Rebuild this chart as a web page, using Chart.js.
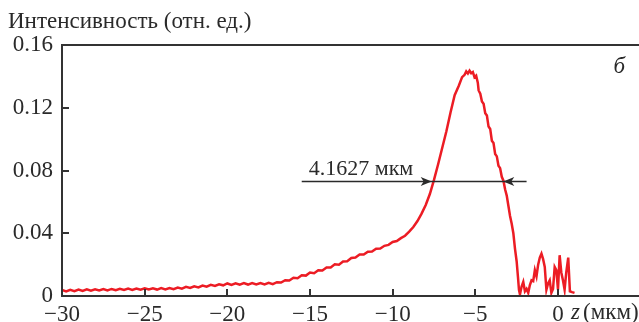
<!DOCTYPE html>
<html>
<head>
<meta charset="utf-8">
<script src="https://cdn.jsdelivr.net/npm/chart.js@4"></script>
<style>
  body { margin: 0; background: #fff; }
</style>
</head>
<body>
<canvas id="chart1" width="639" height="322"></canvas>
<script>
// data
let zValues = [
  -30, -29.75, -29.5, -29.25, -29, -28.75, -28.5, -28.25, -28, -27.75, -27.5, -27.25,
  -27, -26.75, -26.5, -26.25, -26, -25.75, -25.5, -25.25, -25, -24.75, -24.5, -24.25,
  -24, -23.75, -23.5, -23.25, -23, -22.75, -22.5, -22.25, -22, -21.75, -21.5, -21.25,
  -21, -20.75, -20.5, -20.25, -20, -19.75, -19.5, -19.25, -19, -18.75, -18.5, -18.25,
  -18, -17.75, -17.5, -17.25, -17, -16.75, -16.5, -16.25, -16, -15.75, -15.5, -15.25,
  -15, -14.75, -14.5, -14.25, -14, -13.75, -13.5, -13.25, -13, -12.75, -12.5, -12.25,
  -12, -11.75, -11.5, -11.25, -11, -10.75, -10.5, -10.25, -10, -9.75, -9.5, -9.25,
  -9, -8.75, -8.5, -8.25, -8, -7.75, -7.5, -7.25, -7, -6.75, -6.5, -6.25,
  -6, -5.8, -5.65, -5.55, -5.45, -5.35, -5.25, -5.15, -5.05, -4.95, -4.85, -4.8,
  -4.7, -4.6, -4.5, -4.4, -4.3, -4.2, -4.1, -4, -3.9, -3.8, -3.7, -3.6,
  -3.5, -3.4, -3.3, -3.2, -3.1, -3, -2.9, -2.8, -2.7, -2.6, -2.5, -2.42,
  -2.36, -2.3, -2.2, -2.1, -2, -1.9, -1.8, -1.7, -1.6, -1.5, -1.4, -1.3,
  -1.2, -1.1, -1, -0.9, -0.8, -0.7, -0.6, -0.5, -0.4, -0.3, -0.2, -0.1,
  0, 0.1, 0.2, 0.3, 0.4, 0.5, 0.62, 0.72, 0.85, 1
];
let intensity = [
  0.0038, 0.0029, 0.0039, 0.0031, 0.0041, 0.0032, 0.0042, 0.0034, 0.0043, 0.0035, 0.0044, 0.0036,
  0.0045, 0.0037, 0.0046, 0.0038, 0.0047, 0.0039, 0.0048, 0.0040, 0.0049, 0.0041, 0.0049, 0.0041,
  0.0050, 0.0042, 0.0051, 0.0044, 0.0054, 0.0047, 0.0058, 0.0051, 0.0062, 0.0055, 0.0067, 0.0060,
  0.0071, 0.0064, 0.0075, 0.0068, 0.0080, 0.0071, 0.0081, 0.0072, 0.0082, 0.0073, 0.0083, 0.0074,
  0.0083, 0.0074, 0.0084, 0.0076, 0.0088, 0.0086, 0.0101, 0.0099, 0.0116, 0.0113, 0.0132, 0.0130,
  0.0150, 0.0145, 0.0164, 0.0163, 0.0182, 0.0182, 0.0202, 0.0200, 0.0220, 0.0222, 0.0242, 0.0245,
  0.0264, 0.0264, 0.0282, 0.0283, 0.0301, 0.0303, 0.0320, 0.0326, 0.0344, 0.0350, 0.0369, 0.0384,
  0.0410, 0.0440, 0.0478, 0.0525, 0.0580, 0.0650, 0.0740, 0.0840, 0.0945, 0.1050, 0.1170, 0.1280,
  0.1340, 0.1395, 0.1410, 0.1432, 0.1418, 0.1436, 0.1420, 0.1428, 0.1395, 0.1405, 0.1360, 0.1310,
  0.1290, 0.1240, 0.1225, 0.1165, 0.1150, 0.1080, 0.1065, 0.0990, 0.0975, 0.0905, 0.0890, 0.0830,
  0.0815, 0.0760, 0.0735, 0.0680, 0.0640, 0.0575, 0.0510, 0.0460, 0.0400, 0.0300, 0.0220, 0.0120,
  0.0040, 0.0010, 0.0060, 0.0090, 0.0030, 0.0045, 0.0020, 0.0070, 0.0100, 0.0095, 0.0165, 0.0125,
  0.0200, 0.0245, 0.0270, 0.0235, 0.0185, 0.0040, 0.0080, 0.0100, 0.0020, 0.0045, 0.0185, 0.0165,
  0.0040, 0.0260, 0.0150, 0.0100, 0.0040, 0.0150, 0.0245, 0.0030, 0.0025, 0.0020
];

let yTitle = 'Интенсивность (отн. ед.)';
let xUnit = '(мкм)';
let panelLabel = 'б';
// FWHM arrow: level, line ends, arrow tips (data units)
let fwhmText = '4.1627 мкм';
let fwhmLevel = 0.073;
let fwhmLine = [-15.5, -1.9];
let fwhmTips = [-7.64, -3.31];

const serif = '"Liberation Serif", "Times New Roman", serif';
const ink = '#2a2a2a';

// frame, inward ticks, arrow and labels
const extras = {
  id: 'extras',
  afterDatasetsDraw(chart) {
    let ctx = chart.ctx;
    let a = chart.chartArea;
    let x = chart.scales.x, y = chart.scales.y;
    ctx.save();
    ctx.strokeStyle = '#333';
    ctx.lineWidth = 2;
    ctx.beginPath();
    ctx.moveTo(a.left, a.top); ctx.lineTo(a.right, a.top);
    ctx.moveTo(a.left, a.top - 1); ctx.lineTo(a.left, a.bottom + 1);
    ctx.moveTo(a.left, a.bottom); ctx.lineTo(a.right, a.bottom);
    x.ticks.forEach(t => {
      let px = Math.round(x.getPixelForValue(t.value));
      ctx.moveTo(px, a.bottom); ctx.lineTo(px, a.bottom - 7);
    });
    y.ticks.forEach(t => {
      let py = Math.round(y.getPixelForValue(t.value));
      ctx.moveTo(a.left, py); ctx.lineTo(a.left + 7, py);
    });
    ctx.stroke();

    // arrow line
    let ay = y.getPixelForValue(fwhmLevel);
    ctx.strokeStyle = ink;
    ctx.lineWidth = 1.5;
    ctx.beginPath();
    ctx.moveTo(x.getPixelForValue(fwhmLine[0]), ay);
    ctx.lineTo(x.getPixelForValue(fwhmLine[1]), ay);
    ctx.stroke();
    ctx.fillStyle = ink;
    function head(tip, dir) {
      ctx.beginPath();
      ctx.moveTo(tip, ay);
      ctx.lineTo(tip - dir * 11, ay - 4.5);
      ctx.lineTo(tip - dir * 8, ay);
      ctx.lineTo(tip - dir * 11, ay + 4.5);
      ctx.closePath();
      ctx.fill();
    }
    head(x.getPixelForValue(fwhmTips[0]), 1);
    head(x.getPixelForValue(fwhmTips[1]), -1);

    ctx.font = '22px ' + serif;
    ctx.textBaseline = 'alphabetic';
    ctx.textAlign = 'left';
    ctx.fillText(fwhmText, x.getPixelForValue(fwhmLine[0]) + 7, ay - 6);

    // panel letter
    ctx.font = 'italic 23px ' + serif;
    ctx.textAlign = 'right';
    ctx.fillText(panelLabel, a.right - 14, a.top + 28);

    // axis titles
    ctx.textAlign = 'left';
    ctx.font = '23px ' + serif;
    ctx.fillText(yTitle, 8, 28);
    let x0 = x.getPixelForValue(0);
    ctx.font = 'italic 23px ' + serif;
    ctx.fillText('z', x0 + 13, 319);
    ctx.font = '23px ' + serif;
    ctx.fillText(xUnit, x0 + 25, 319);
    ctx.restore();
  }
};

let points = zValues.map((z, i) => ({ x: z, y: intensity[i] }));

new Chart(document.getElementById('chart1'), {
  type: 'line',
  data: {
    datasets: [{
      data: points,
      borderColor: '#ec1c24',
      borderWidth: 2.5,
      pointRadius: 0,
      tension: 0,
      fill: false
    }]
  },
  options: {
    responsive: false,
    animation: false,
    layout: { padding: { top: 45, right: 0, left: 0, bottom: 0 } },
    plugins: { legend: { display: false }, tooltip: { enabled: false } },
    scales: {
      x: {
        type: 'linear',
        min: -30,
        max: 4.9,
        grid: { display: false, drawTicks: false },
        border: { display: false },
        ticks: {
          stepSize: 5,
          includeBounds: false,
          autoSkip: false,
          maxRotation: 0,
          padding: 5,
          color: ink,
          font: { family: serif, size: 23 },
          callback: v => v < 0 ? '\u2212' + Math.abs(v) : String(v)
        },
        afterFit: s => { s.height = 26; }
      },
      y: {
        min: 0,
        max: 0.16,
        grid: { display: false, drawTicks: false },
        border: { display: false },
        ticks: {
          stepSize: 0.04,
          padding: 9,
          color: ink,
          font: { family: serif, size: 23 },
          callback: v => v === 0 ? '0' : v.toFixed(2)
        },
        afterFit: s => { s.width = 62; }
      }
    }
  },
  plugins: [extras]
});
</script>
</body>
</html>
